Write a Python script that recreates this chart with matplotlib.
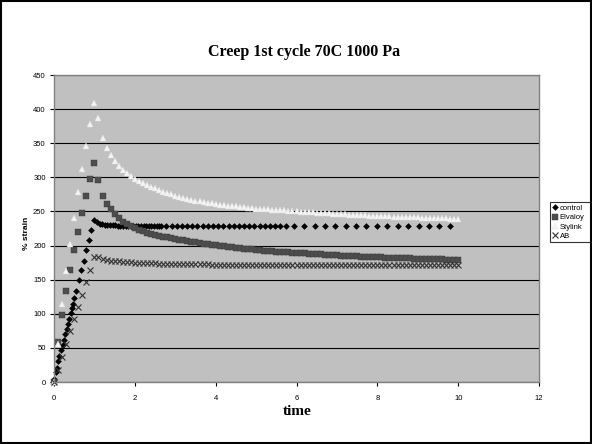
import matplotlib
matplotlib.use("Agg")
import matplotlib.pyplot as plt
from matplotlib.patches import Rectangle

# ---------------- data ----------------
control_t = [0.0, 0.04, 0.07, 0.11, 0.13, 0.18, 0.215, 0.25, 0.28, 0.31, 0.35, 0.38,
             0.41, 0.44, 0.46, 0.495, 0.545, 0.61, 0.68, 0.73, 0.80, 0.87, 0.92,
             1.0, 1.06, 1.13, 1.19, 1.26, 1.32, 1.38, 1.45, 1.51, 1.58, 1.64, 1.70,
             1.77, 1.83, 1.90, 1.96, 2.02, 2.09, 2.15, 2.22, 2.28, 2.34, 2.41, 2.47,
             2.54, 2.60,
             2.65, 2.78, 2.91, 3.04, 3.16, 3.29, 3.42, 3.55, 3.68, 3.81, 3.93, 4.06,
             4.19, 4.32, 4.45, 4.58, 4.70, 4.83, 4.96, 5.09, 5.22, 5.35, 5.47, 5.60,
             5.73,
             5.93, 6.19, 6.45, 6.70, 6.96, 7.22, 7.47, 7.73, 7.99, 8.25, 8.50, 8.76,
             9.02, 9.28, 9.53, 9.79]
control_v = [4, 14, 21, 31, 38, 47, 54, 62, 70, 77, 85, 92,
             101, 108, 115, 123, 134, 149, 164, 178, 194, 208, 223,
             237.5, 234, 232, 231, 230.5, 230, 229.8, 229.6, 229.4, 229.2, 229.1, 229,
             229, 228.9, 228.8, 228.8, 228.7, 228.7, 228.7, 228.6, 228.6, 228.6, 228.6, 228.6,
             228.5, 228.5,
             228.5, 228.5, 228.5, 228.5, 228.5, 228.5, 228.5, 228.5, 228.5, 228.5, 228.5, 228.5,
             228.5, 228.5, 228.5, 228.5, 228.5, 228.5, 228.5, 228.5, 228.5, 228.5, 228.5, 228.5,
             228.5,
             228.5, 228.5, 228.5, 228.5, 228.5, 228.5, 228.5, 228.5, 228.5, 228.5, 228.5, 228.5,
             228.5, 228.5, 228.5, 228.5]

t_step = [0.0, 0.1, 0.2, 0.3, 0.4, 0.5, 0.6, 0.7, 0.8, 0.9,
          1.0, 1.1, 1.2, 1.3, 1.4, 1.5, 1.6, 1.7, 1.8, 1.9,
          2.0, 2.1, 2.2, 2.3, 2.4, 2.5, 2.6, 2.7, 2.8, 2.9,
          3.0, 3.1, 3.2, 3.3, 3.4, 3.5, 3.6, 3.7, 3.8, 3.9,
          4.0, 4.1, 4.2, 4.3, 4.4, 4.5, 4.6, 4.7, 4.8, 4.9,
          5.0, 5.1, 5.2, 5.3, 5.4, 5.5, 5.6, 5.7, 5.8, 5.9,
          6.0, 6.1, 6.2, 6.3, 6.4, 6.5, 6.6, 6.7, 6.8, 6.9,
          7.0, 7.1, 7.2, 7.3, 7.4, 7.5, 7.6, 7.7, 7.8, 7.9,
          8.0, 8.1, 8.2, 8.3, 8.4, 8.5, 8.6, 8.7, 8.8, 8.9,
          9.0, 9.1, 9.2, 9.3, 9.4, 9.5, 9.6, 9.7, 9.8, 9.9,
          10.0]

elvaloy_v = [0, 58, 98, 133, 164, 193, 220, 248, 273, 298,
             321, 296, 273, 261, 253, 246, 240, 235, 231, 228,
             225, 223, 221, 219, 217.5, 216, 214.5, 213, 212, 211,
             210, 208.8, 207.6, 206.5, 205.5, 204.5, 203.6, 202.7, 201.9, 201.1,
             200.3, 199.5, 198.8, 198.1, 197.4, 196.7, 196.1, 195.5, 194.9, 194.3,
             193.7, 193.2, 192.7, 192.2, 191.7, 191.2, 190.8, 190.4, 190, 189.6,
             189.2, 188.8, 188.4, 188, 187.6, 187.2, 186.9, 186.6, 186.3, 186,
             185.7, 185.4, 185.1, 184.8, 184.5, 184.2, 183.9, 183.6, 183.4, 183.2,
             183, 182.7, 182.4, 182.2, 182, 181.8, 181.6, 181.4, 181.2, 181,
             180.8, 180.6, 180.4, 180.2, 180, 179.8, 179.6, 179.5, 179.4, 179.3,
             179.2]

stylink_v = [0, 56, 115, 162, 203, 241, 278, 312, 346, 378,
             409, 387, 358, 343, 333, 324, 317, 311, 306, 302,
             298, 295, 292, 289, 286, 284, 281, 279, 277, 275,
             273, 271.5, 270, 268.5, 267, 266, 265, 264, 263, 262,
             261, 260, 259.3, 258.6, 258, 257.3, 256.7, 256, 255.4, 254.8,
             254.2, 253.8, 253.4, 253, 252.6, 252.2, 251.8, 251.4, 251, 250.6,
             250.2, 249.8, 249.4, 249, 248.6, 248.2, 247.8, 247.4, 247, 246.6,
             246.2, 245.9, 245.6, 245.3, 245, 244.7, 244.4, 244.1, 243.8, 243.5,
             243.2, 243, 242.8, 242.6, 242.4, 242.2, 242, 241.8, 241.6, 241.4,
             241.2, 241, 240.8, 240.6, 240.4, 240.2, 240, 239.8, 239.6, 239.4,
             239.2]

ab_v = [0, 17.6, 37, 56, 75, 92, 110, 128, 146, 163.5,
        182.5, 182.5, 180, 179, 178, 177.3, 176.7, 176.2, 175.8, 175.4,
        175, 174.7, 174.4, 174.2, 174, 173.8, 173.6, 173.4, 173.3, 173.2,
        173.1, 173, 172.9, 172.8, 172.7, 172.6, 172.5, 172.4, 172.3, 172.2,
        172.1, 172, 172, 171.9, 171.9, 171.8, 171.8, 171.7, 171.7, 171.6,
        171.6, 171.6, 171.5, 171.5, 171.5, 171.4, 171.4, 171.4, 171.3, 171.3,
        171.3, 171.3, 171.2, 171.2, 171.2, 171.2, 171.2, 171.1, 171.1, 171.1,
        171.1, 171.1, 171.1, 171.0, 171.0, 171.0, 171.0, 171.0, 171.0, 171.0,
        171.0, 171.0, 171.0, 171.0, 171.0, 171.0, 171.0, 171.0, 171.0, 171.0,
        171.0, 171.0, 171.0, 171.0, 171.0, 171.0, 171.0, 171.0, 171.0, 171.0,
        171.0]

series_names = ["control", "Elvaloy", "Stylink", "AB"]
x_ticks = [0, 2, 4, 6, 8, 10, 12]
y_ticks = [0, 50, 100, 150, 200, 250, 300, 350, 400, 450]

# ---------------- figure ----------------
W, H = 592, 444
fig = plt.figure(figsize=(W / 100, H / 100), dpi=100)
fig.patch.set_facecolor("white")

# outer frame
fig.patches.append(Rectangle((1 / W, 1 / H), (W - 2) / W, (H - 2) / H, transform=fig.transFigure,
                             fill=False, edgecolor="black", linewidth=1.5, zorder=10))

ax = fig.add_axes([54 / W, 1 - 382 / H, (539 - 54) / W, (382 - 75) / H])
ax.set_facecolor("#c0c0c0")
for s in ax.spines.values():
    s.set_color("#808080")
    s.set_linewidth(1.0)

ax.set_xlim(0, 12)
ax.set_ylim(0, 450)
ax.set_xticks(x_ticks)
ax.set_yticks(y_ticks)
ax.tick_params(direction="out", length=3, width=0.8, color="black",
               labelsize=5.5, pad=3, labelfontfamily="Liberation Sans")
ax.tick_params(axis="x", pad=6)
ax.yaxis.grid(True, color="black", linewidth=0.8)
ax.set_axisbelow(True)

ax.plot(control_t, control_v, linestyle="none", marker="D", markersize=3.4,
        color="black", markeredgewidth=0, label=series_names[0], clip_on=False)
ax.plot(t_step, elvaloy_v, linestyle="none", marker="s", markersize=4.6,
        markerfacecolor="#4d4d4d", markeredgecolor="#3a3a3a", markeredgewidth=0.3,
        label=series_names[1], clip_on=False)
ax.plot(t_step, stylink_v, linestyle="none", marker="^", markersize=4.8,
        markerfacecolor="#f4f4f4", markeredgecolor="#e0e0e0", markeredgewidth=0.3,
        label=series_names[2], clip_on=False)
ax.plot(t_step, ab_v, linestyle="none", marker="x", markersize=4.2,
        color="#333333", markeredgewidth=0.8, label=series_names[3], clip_on=False)

fig.text(304 / W, 1 - 52 / H, "Creep 1st cycle 70C 1000 Pa", ha="center", va="center",
         fontsize=11.5, fontweight="bold", family="Liberation Serif")
fig.text(297 / W, 1 - 411 / H, "time", ha="center", va="center",
         fontsize=11, fontweight="bold", family="Liberation Serif")
fig.text(26 / W, 1 - 233 / H, "% strain", ha="center", va="center", rotation=90,
         fontsize=6, fontweight="bold", family="Liberation Sans")

leg_top = 1 - 202 / H
leg_h = 48 / H
leg = fig.legend(loc="upper left", bbox_to_anchor=(550 / W, leg_top - leg_h, 42 / W, leg_h),
                 mode="expand",
                 prop={"family": "Liberation Sans", "size": 5.5},
                 frameon=True, fancybox=False, handlelength=0.6, handletextpad=0.3,
                 borderpad=0.35, labelspacing=0.25, borderaxespad=0)
leg.get_frame().set_edgecolor("black")
leg.get_frame().set_linewidth(0.8)

fig.savefig("out.png", dpi=100)
